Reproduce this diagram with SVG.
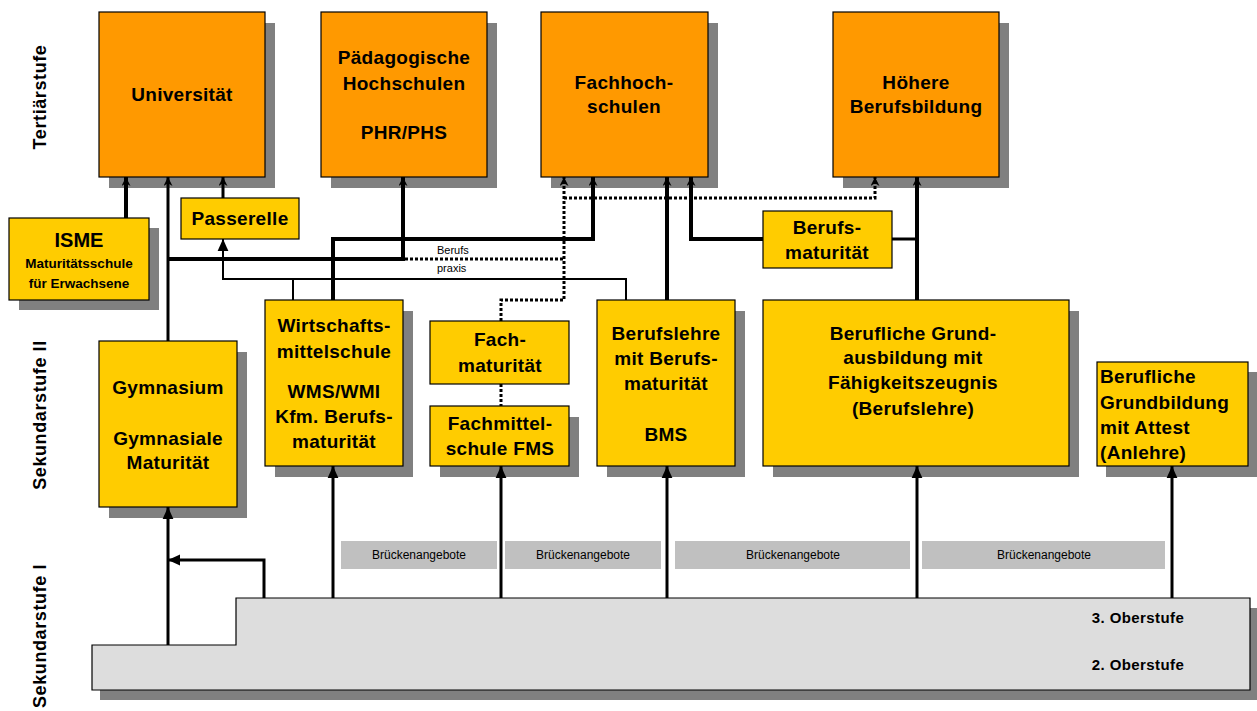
<svg xmlns="http://www.w3.org/2000/svg" width="1257" height="711" viewBox="0 0 1257 711">
<style>
text{font-family:"Liberation Sans",Arial,sans-serif;fill:#000}
.t{font-size:19px;font-weight:bold;text-anchor:middle;letter-spacing:0.3px}
.m{font-size:13.5px;font-weight:bold;text-anchor:middle}
.lab{font-size:18px;font-weight:bold;text-anchor:middle;letter-spacing:0.6px}
.br{font-size:12px;text-anchor:middle}
.sm{font-size:11px}
.ob{font-size:15px;font-weight:bold;text-anchor:middle;letter-spacing:0.4px}
.o{fill:#FF9900;stroke:#000;stroke-width:1.2}
.y{fill:#FFCC00;stroke:#000;stroke-width:1.2}
.sh{fill:#808080}
.g{fill:#C0C0C0}
.c{fill:none;stroke:#000;stroke-width:3}
.thin{stroke-width:2}
.thick{stroke-width:4}
.d{fill:none;stroke:#000;stroke-width:3;stroke-dasharray:3 2}
.st{text-anchor:start}
</style>
<defs>
<marker id="s" viewBox="0 0 10 10" refX="10" refY="5" markerWidth="9" markerHeight="9" orient="auto" markerUnits="userSpaceOnUse">
<path d="M10,5 L0,0 L3,5 L0,10 z" fill="#000"/>
</marker>
<marker id="b" viewBox="0 0 10 10" refX="10" refY="5" markerWidth="12" markerHeight="12" orient="auto" markerUnits="userSpaceOnUse">
<path d="M10,5 L0,0.5 L0,9.5 z" fill="#000"/>
</marker>
</defs>
<rect width="1257" height="711" fill="#fff"/>

<!-- level labels -->
<text class="lab" transform="translate(46,97) rotate(-90)">Tertiärstufe</text>
<text class="lab" transform="translate(46,415) rotate(-90)">Sekundarstufe II</text>
<text class="lab" transform="translate(46,636) rotate(-90)">Sekundarstufe I</text>

<!-- Sekundarstufe I stairs -->
<g id="oberstufe">
<path class="sh" d="M100,655 H244 V608 H1258 V700 H100 Z"/>
<path d="M92,645 H236 V598 H1250 V690 H92 Z" fill="#DDDDDD" stroke="#000" stroke-width="1.2"/>
<text class="ob" x="1138" y="623">3. Oberstufe</text>
<text class="ob" x="1138" y="670">2. Oberstufe</text>
</g>

<g id="brueckenangebote">
<rect class="g" x="341" y="541" width="156" height="28"/>
<text class="br" x="419" y="559">Brückenangebote</text>
<rect class="g" x="505" y="541" width="156" height="28"/>
<text class="br" x="583" y="559">Brückenangebote</text>
<rect class="g" x="675" y="541" width="235" height="28"/>
<text class="br" x="793" y="559">Brückenangebote</text>
<rect class="g" x="922" y="541" width="243" height="28"/>
<text class="br" x="1044" y="559">Brückenangebote</text>
</g>

<!-- Tertiary -->
<g id="universitaet">
<rect class="sh" x="109" y="23" width="166" height="165"/>
<rect class="o" x="99" y="12" width="166" height="165"/>
<text class="t" x="182" y="101">Universität</text>
</g>
<g id="paedagogische-hochschulen">
<rect class="sh" x="331" y="23" width="166" height="165"/>
<rect class="o" x="321" y="12" width="166" height="165"/>
<text class="t" x="404" y="64">Pädagogische</text>
<text class="t" x="404" y="90">Hochschulen</text>
<text class="t" x="404" y="139">PHR/PHS</text>
</g>
<g id="fachhochschulen">
<rect class="sh" x="551" y="23" width="167" height="165"/>
<rect class="o" x="541" y="12" width="167" height="165"/>
<text class="t" x="624" y="89">Fachhoch-</text>
<text class="t" x="624" y="113">schulen</text>
</g>
<g id="hoehere-berufsbildung">
<rect class="sh" x="843" y="23" width="166" height="165"/>
<rect class="o" x="833" y="12" width="166" height="165"/>
<text class="t" x="916" y="89">Höhere</text>
<text class="t" x="916" y="113">Berufsbildung</text>
</g>

<!-- Secondary II and intermediate nodes -->
<g id="isme">
<rect class="sh" x="19" y="228" width="140" height="82"/>
<rect class="y" x="9" y="218" width="140" height="82"/>
<text x="79" y="247" font-size="20" font-weight="bold" text-anchor="middle">ISME</text>
<text class="m" x="79" y="268">Maturitätsschule</text>
<text class="m" x="79" y="288">für Erwachsene</text>
</g>
<g id="passerelle">
<rect class="y" x="181" y="198" width="118" height="41"/>
<text class="t" x="240" y="225">Passerelle</text>
</g>
<g id="berufsmaturitaet">
<rect class="y" x="763" y="211" width="129" height="57"/>
<text class="t" x="827" y="234">Berufs-</text>
<text class="t" x="827" y="259">maturität</text>
</g>
<g id="gymnasium">
<rect class="sh" x="109" y="352" width="138" height="166"/>
<rect class="y" x="99" y="341" width="138" height="166"/>
<text class="t" x="168" y="394">Gymnasium</text>
<text class="t" x="168" y="445">Gymnasiale</text>
<text class="t" x="168" y="469">Maturität</text>
</g>
<g id="wirtschaftsmittelschule">
<rect class="sh" x="275" y="311" width="138" height="166"/>
<rect class="y" x="265" y="300" width="138" height="166"/>
<text class="t" x="334" y="332">Wirtschafts-</text>
<text class="t" x="334" y="358">mittelschule</text>
<text class="t" x="334" y="398">WMS/WMI</text>
<text class="t" x="334" y="423">Kfm. Berufs-</text>
<text class="t" x="334" y="448">maturität</text>
</g>
<g id="fachmaturitaet">
<rect class="y" x="430" y="321" width="139" height="63"/>
<text class="t" x="500" y="346">Fach-</text>
<text class="t" x="500" y="372">maturität</text>
</g>
<g id="fachmittelschule">
<rect class="sh" x="440" y="417" width="139" height="60"/>
<rect class="y" x="430" y="406" width="139" height="60"/>
<text class="t" x="500" y="430">Fachmittel-</text>
<text class="t" x="500" y="455">schule FMS</text>
</g>
<g id="berufslehre-bms">
<rect class="sh" x="607" y="311" width="138" height="166"/>
<rect class="y" x="597" y="300" width="138" height="166"/>
<text class="t" x="666" y="340">Berufslehre</text>
<text class="t" x="666" y="365">mit Berufs-</text>
<text class="t" x="666" y="390">maturität</text>
<text class="t" x="666" y="441">BMS</text>
</g>
<g id="berufliche-grundausbildung">
<rect class="sh" x="773" y="311" width="306" height="166"/>
<rect class="y" x="763" y="300" width="306" height="166"/>
<text class="t" x="913" y="340">Berufliche Grund-</text>
<text class="t" x="913" y="364">ausbildung mit</text>
<text class="t" x="913" y="389">Fähigkeitszeugnis</text>
<text class="t" x="913" y="415">(Berufslehre)</text>
</g>
<g id="attest">
<rect class="sh" x="1106" y="372" width="151" height="105"/>
<rect class="y" x="1097" y="362" width="151" height="104"/>
<text class="t st" x="1100" y="383">Berufliche</text>
<text class="t st" x="1100" y="409">Grundbildung</text>
<text class="t st" x="1100" y="434">mit Attest</text>
<text class="t st" x="1100" y="459">(Anlehre)</text>
</g>

<!-- connectors -->
<g id="connectors">
<path class="c thick" d="M126,218 V177" marker-end="url(#s)"/>
<path class="c" d="M168,341 V177" marker-end="url(#s)"/>
<path class="c" d="M223,198 V177" marker-end="url(#s)"/>
<path class="c thick" d="M168,259 H403 V177" marker-end="url(#s)"/>
<path class="d" d="M405,259 H564"/>
<path class="d" d="M501,321 V300 H564 V177" marker-end="url(#s)"/>
<path class="d" d="M564,198 H875 V177" marker-end="url(#s)"/>
<path class="c thick" d="M333,300 V239 H593 V177" marker-end="url(#s)"/>
<path class="c thin" d="M293,300 V279 H223 V239" marker-end="url(#b)"/>
<path class="c thin" d="M626,300 V279 H293"/>
<path class="c thick" d="M667,300 V177" marker-end="url(#s)"/>
<path class="c thick" d="M763,239 H691 V177" marker-end="url(#s)"/>
<path class="c" d="M892,239 H917"/>
<path class="c thick" d="M917,300 V177" marker-end="url(#s)"/>
<path class="d" d="M501,384 V406"/>
<path class="c" d="M333,598 V466" marker-end="url(#b)"/>
<path class="c" d="M501,598 V466" marker-end="url(#b)"/>
<path class="c" d="M667,598 V466" marker-end="url(#b)"/>
<path class="c" d="M917,598 V466" marker-end="url(#b)"/>
<path class="c" d="M1172,598 V466" marker-end="url(#b)"/>
<path class="c" d="M168,645 V507" marker-end="url(#b)"/>
<path class="c" d="M264,598 V560 H168" stroke-width="4.5" marker-end="url(#b)"/>
<text class="sm" x="437" y="254">Berufs</text>
<text class="sm" x="437" y="272">praxis</text>
</g>
</svg>
